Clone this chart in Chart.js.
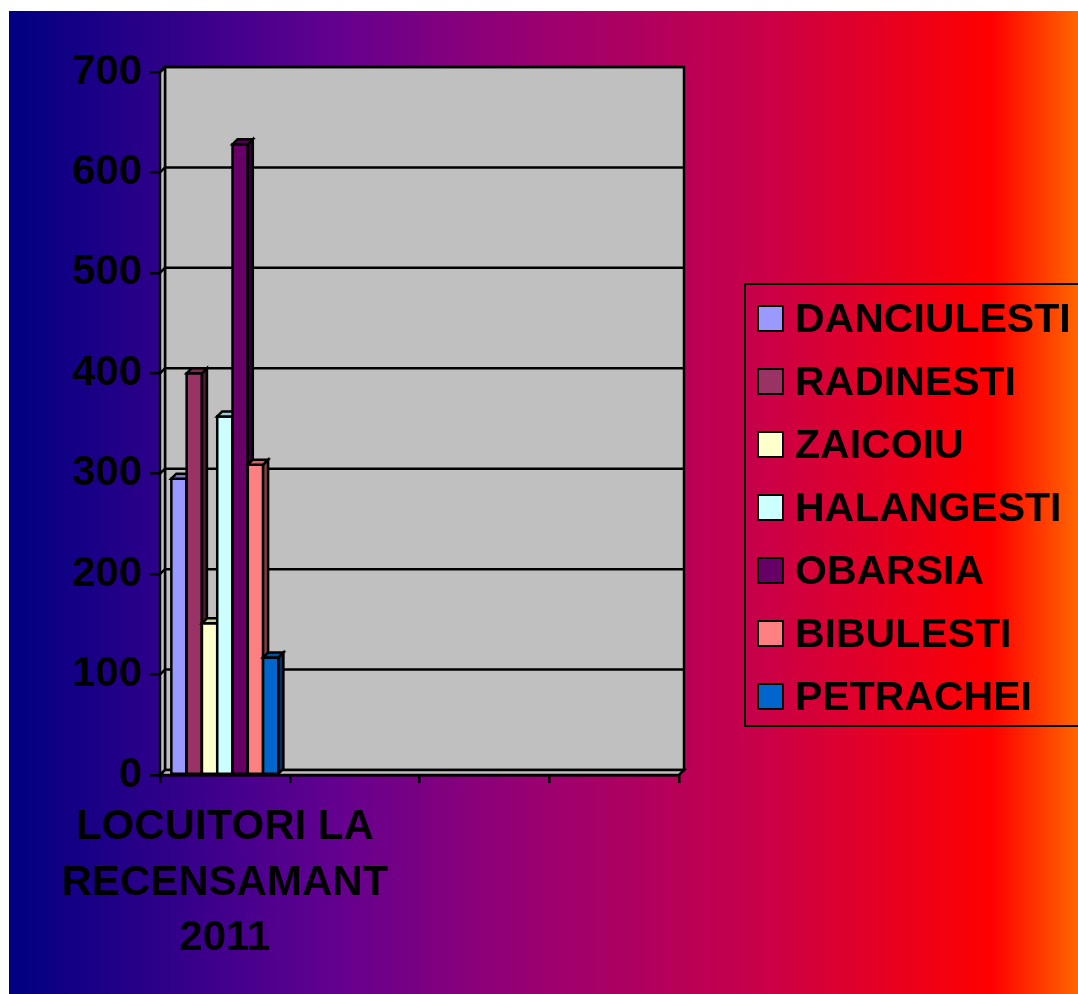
<!DOCTYPE html>
<html>
<head>
<meta charset="utf-8">
<script src="https://cdn.jsdelivr.net/npm/chart.js@4.4.0/dist/chart.umd.min.js"></script>
<style>
html,body{margin:0;padding:0;background:#fff;overflow:hidden;width:1078px;height:994px}
#wrap{position:relative;width:1078px;height:994px}
#legend{position:absolute;left:744px;top:283px;width:360px;height:440px;border:2px solid #000;font:bold 41px "Liberation Sans",Arial,sans-serif;color:#000}
.item{position:absolute;left:11px;height:40px;display:flex;align-items:center;white-space:nowrap}
.sw{width:23px;height:23px;border:2.5px solid #000;margin-right:11px;box-sizing:content-box}
</style>
</head>
<body>
<div id="wrap">
  <canvas id="chart" width="1078" height="994"></canvas>
  <div id="legend"></div>
</div>
<script>
// data
const categories = [['LOCUITORI LA','RECENSAMANT','2011'], '', '', ''];
const seriesNames = ['DANCIULESTI','RADINESTI','ZAICOIU','HALANGESTI','OBARSIA','BIBULESTI','PETRACHEI'];
const seriesValues = [295, 400, 151, 357, 628, 309, 117];
const seriesColors = ['#9999FF','#993366','#FFFFCC','#CCFFFF','#660066','#FF8080','#0066CC'];
const yTicks = [0,100,200,300,400,500,600,700];

const FONT = '"Liberation Sans", Arial, sans-serif';
const DEPTH = 5;
const LW = 2.5;

function shade(hex, k){
  const n = parseInt(hex.slice(1),16);
  const r = Math.round(((n>>16)&255)*k), g = Math.round(((n>>8)&255)*k), b = Math.round((n&255)*k);
  return 'rgb('+r+','+g+','+b+')';
}

function poly(ctx, pts, fill){
  ctx.beginPath();
  ctx.moveTo(pts[0][0], pts[0][1]);
  for(let i=1;i<pts.length;i++) ctx.lineTo(pts[i][0], pts[i][1]);
  ctx.closePath();
  if(fill){ ctx.fillStyle = fill; ctx.fill(); }
  ctx.stroke();
}

const scene3d = {
  id:'scene3d',
  beforeDraw(chart){
    const {ctx, width, height} = chart;
    ctx.save();
    ctx.fillStyle = '#fff';
    ctx.fillRect(0,0,width,height);
    const g = ctx.createLinearGradient(9,0,width,0);
    g.addColorStop(0,'#000082');
    g.addColorStop(0.3,'#620090');
    g.addColorStop(0.5,'#9C0070');
    g.addColorStop(0.7,'#C8004A');
    g.addColorStop(0.92,'#FF0000');
    g.addColorStop(1,'#FF6600');
    ctx.fillStyle = g;
    ctx.fillRect(9,11,width-9,height-11);
    ctx.restore();
  },
  beforeDatasetsDraw(chart){
    const {ctx, chartArea:a, scales:{y}} = chart;
    const d = DEPTH;
    ctx.save();
    ctx.strokeStyle = '#000';
    ctx.lineWidth = LW;
    ctx.lineJoin = 'miter';
    // back wall, left wall, floor
    poly(ctx, [[a.left+d,a.top-d],[a.right+d,a.top-d],[a.right+d,a.bottom-d],[a.left+d,a.bottom-d]], '#C0C0C0');
    poly(ctx, [[a.left,a.top],[a.left+d,a.top-d],[a.left+d,a.bottom-d],[a.left,a.bottom]], '#C0C0C0');
    poly(ctx, [[a.left,a.bottom],[a.left+d,a.bottom-d],[a.right+d,a.bottom-d],[a.right,a.bottom]], '#C0C0C0');
    // gridlines on the back wall
    yTicks.forEach(v=>{
      if(v===0) return;
      const py = y.getPixelForValue(v);
      ctx.beginPath();
      ctx.moveTo(a.left,py);
      ctx.lineTo(a.left+d,py-d);
      ctx.lineTo(a.right+d,py-d);
      ctx.stroke();
    });
    ctx.restore();
  },
  afterDatasetsDraw(chart){
    const {ctx} = chart;
    const d = DEPTH;
    ctx.save();
    ctx.strokeStyle = '#000';
    ctx.lineWidth = LW;
    ctx.lineJoin = 'miter';
    chart.data.datasets.forEach((ds,i)=>{
      const meta = chart.getDatasetMeta(i);
      meta.data.forEach((el,j)=>{
        if(ds.data[j]==null) return;
        const {x,y,base,width} = el.getProps(['x','y','base','width'], true);
        const l = x-width/2, r = x+width/2;
        const c = seriesColors[i];
        poly(ctx, [[l,y],[r,y],[r,base],[l,base]], c);
        poly(ctx, [[r,y],[r+d,y-d],[r+d,base-d],[r,base]], shade(c,0.5));
        poly(ctx, [[l,y],[l+d,y-d],[r+d,y-d],[r,y]], shade(c,0.8));
      });
    });
    ctx.restore();
  }
};

const datasets = seriesNames.map((name,i)=>({
  label:name,
  data:categories.map((_,k)=>k===0 ? seriesValues[i] : null),
  backgroundColor:seriesColors[i],
  borderColor:'#000',
  borderWidth:0
}));

new Chart(document.getElementById('chart').getContext('2d'),{
  type:'bar',
  data:{labels:categories, datasets},
  options:{
    responsive:false,
    animation:false,
    devicePixelRatio:1,
    layout:{padding:{top:72, right:399, left:0, bottom:0}},
    datasets:{bar:{categoryPercentage:0.825, barPercentage:1}},
    plugins:{legend:{display:false}, tooltip:{enabled:false}},
    scales:{
      x:{
        afterFit(s){ s.height = 219; },
        grid:{display:true, drawOnChartArea:false, tickLength:8, color:'#000', lineWidth:LW, offset:true},
        border:{display:true, color:'#000', width:LW},
        ticks:{color:'#000', font:{family:FONT, size:42, weight:'bold', lineHeight:1.32}, maxRotation:0, minRotation:0, autoSkip:false, padding:17}
      },
      y:{
        min:0, max:700,
        afterFit(s){ s.width = 160; },
        afterBuildTicks(s){ s.ticks = yTicks.map(v=>({value:v})); },
        grid:{display:true, drawOnChartArea:false, tickLength:10, color:'#000', lineWidth:LW},
        border:{display:true, color:'#000', width:LW},
        ticks:{color:'#000', font:{family:FONT, size:42, weight:'bold'}, padding:8}
      }
    }
  },
  plugins:[scene3d]
});

// legend built from the same arrays
const leg = document.getElementById('legend');
seriesNames.forEach((name,i)=>{
  const it = document.createElement('div');
  it.className = 'item';
  it.style.top = (13 + i*63) + 'px';
  const sw = document.createElement('span');
  sw.className = 'sw';
  sw.style.background = seriesColors[i];
  const tx = document.createElement('span');
  tx.textContent = name;
  it.appendChild(sw);
  it.appendChild(tx);
  leg.appendChild(it);
});
</script>
</body>
</html>
